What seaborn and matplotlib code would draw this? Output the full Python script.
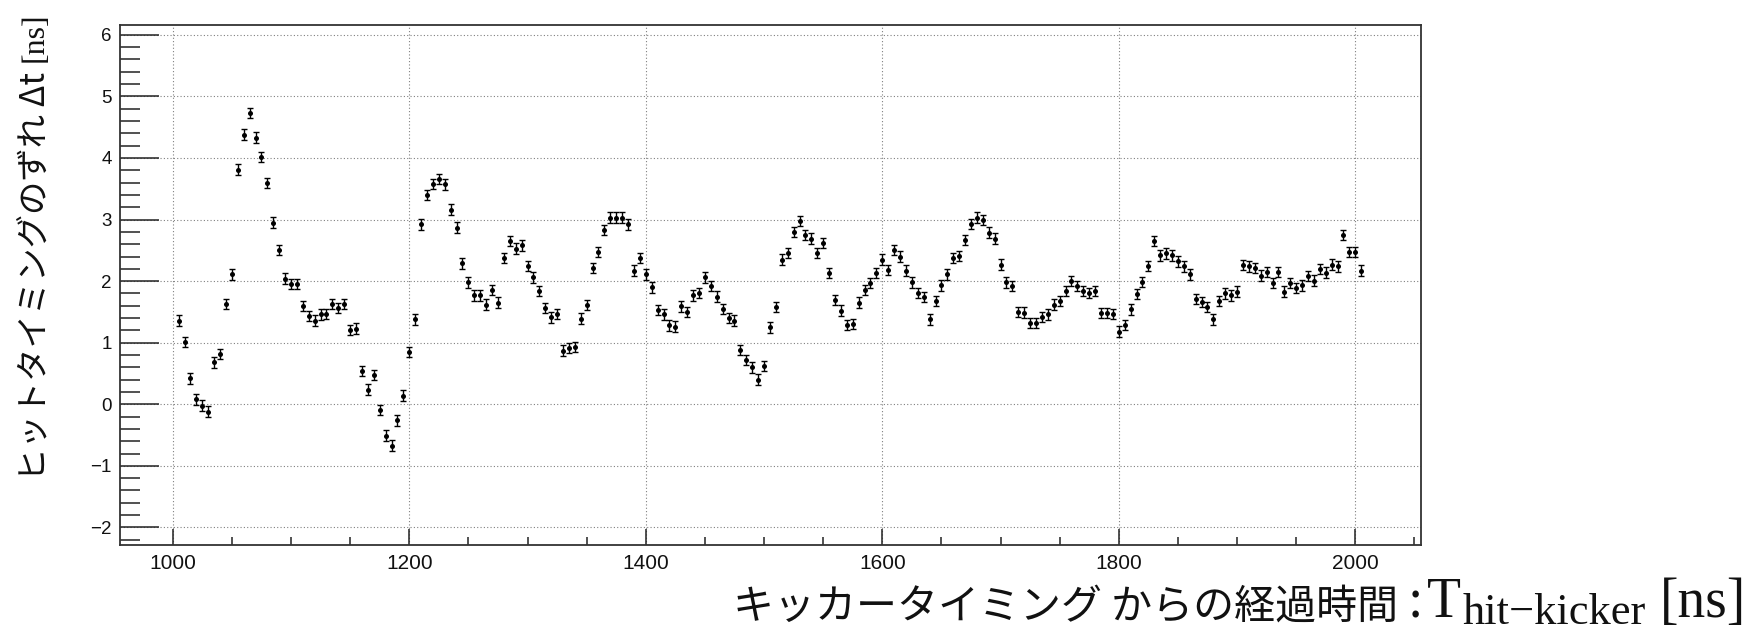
import numpy as np
import pandas as pd
import matplotlib
matplotlib.use("Agg")
import matplotlib.pyplot as plt
from matplotlib.ticker import MultipleLocator
import seaborn as sns

# Bin centres of the hit time after the kicker [ns]
t_first, t_last, t_step = 1005, 2005, 5

# Timing shift of the hit per bin [ns]
dt = [
    1.36, 1.01, 0.42, 0.08, -0.02, -0.12, 0.68, 0.82, 1.63, 2.11,
    3.81, 4.38, 4.73, 4.33, 4.02, 3.59, 2.95, 2.51, 2.04, 1.95,
    1.95, 1.60, 1.43, 1.36, 1.46, 1.47, 1.63, 1.56, 1.63, 1.21,
    1.23, 0.54, 0.24, 0.48, -0.09, -0.51, -0.67, -0.26, 0.14, 0.85,
    1.38, 2.92, 3.40, 3.58, 3.66, 3.57, 3.16, 2.87, 2.29, 1.98,
    1.77, 1.77, 1.62, 1.86, 1.65, 2.38, 2.65, 2.53, 2.58, 2.25,
    2.06, 1.84, 1.56, 1.41, 1.47, 0.87, 0.91, 0.93, 1.39, 1.61,
    2.21, 2.47, 2.83, 3.03, 3.03, 3.03, 2.92, 2.17, 2.38, 2.11,
    1.90, 1.53, 1.46, 1.28, 1.26, 1.59, 1.50, 1.77, 1.81, 2.06,
    1.92, 1.75, 1.55, 1.40, 1.36, 0.88, 0.72, 0.60, 0.40, 0.62,
    1.25, 1.58, 2.35, 2.46, 2.80, 2.98, 2.75, 2.69, 2.46, 2.62,
    2.13, 1.69, 1.52, 1.29, 1.30, 1.65, 1.86, 1.97, 2.13, 2.35,
    2.18, 2.51, 2.40, 2.17, 1.98, 1.81, 1.74, 1.38, 1.68, 1.93,
    2.11, 2.38, 2.41, 2.67, 2.93, 3.03, 2.99, 2.79, 2.69, 2.27,
    1.98, 1.92, 1.50, 1.49, 1.32, 1.32, 1.42, 1.46, 1.62, 1.68,
    1.84, 2.00, 1.92, 1.84, 1.81, 1.84, 1.48, 1.48, 1.47, 1.18,
    1.29, 1.54, 1.79, 1.99, 2.25, 2.65, 2.42, 2.45, 2.42, 2.32,
    2.24, 2.11, 1.71, 1.66, 1.58, 1.38, 1.68, 1.80, 1.77, 1.83,
    2.26, 2.24, 2.21, 2.09, 2.15, 1.97, 2.15, 1.83, 1.97, 1.89,
    1.93, 2.08, 2.01, 2.20, 2.14, 2.27, 2.24, 2.75, 2.47, 2.47,
    2.17,
]
dt_err = 0.085

x_ticks = [1000, 1200, 1400, 1600, 1800, 2000]
y_ticks = [-2, -1, 0, 1, 2, 3, 4, 5, 6]

ylabel_jp = "ヒットタイミングのずれ Δt"
ylabel_unit = "[ns]"
xlabel_jp = "キッカータイミング からの経過時間"
xlabel_colon = ":"
xlabel_sym = "T"
xlabel_sub = "hit\u2212kicker"
xlabel_unit = "[ns]"

t = np.arange(t_first, t_last + t_step, t_step)
df = pd.DataFrame({"t": t, "dt": dt})

sns.set_theme(style="white")
plt.rcParams["font.family"] = ["Liberation Sans", "DejaVu Sans"]
plt.rcParams["axes.unicode_minus"] = True

W, H = 1749, 635
fig = plt.figure(figsize=(W / 100, H / 100), dpi=100)
fig.patch.set_facecolor("white")
ax = fig.add_axes([120 / W, 1 - 545.3 / H, (1421.3 - 120) / W, (545.3 - 25) / H])

ax.errorbar(df["t"], df["dt"], yerr=dt_err, fmt="none", ecolor="black",
            elinewidth=1.0, capsize=2.2, capthick=1.0, zorder=3)
sns.scatterplot(data=df, x="t", y="dt", ax=ax, color="black", s=13,
                linewidth=0, zorder=4)

ax.set_xlim(955.4, 2055.8)
ax.set_ylim(-2.29, 6.16)
ax.set_xticks(x_ticks)
ax.set_yticks(y_ticks)
ax.xaxis.set_minor_locator(MultipleLocator(50))
ax.yaxis.set_minor_locator(MultipleLocator(0.2))
ax.set_xlabel("")
ax.set_ylabel("")

tick_col = "#222222"
ax.tick_params(axis="y", which="major", direction="in", length=28, width=1.1,
               color=tick_col, labelsize=13.5, pad=6, left=True, right=False)
ax.tick_params(axis="y", which="minor", direction="in", length=14.5, width=1.1,
               color=tick_col, left=True, right=False)
ax.tick_params(axis="x", which="major", direction="in", length=11.5, width=1.1,
               color=tick_col, labelsize=15, pad=6, bottom=True, top=False)
ax.tick_params(axis="x", which="minor", direction="in", length=6, width=1.1,
               color=tick_col, bottom=True, top=False)
for lab in ax.get_xticklabels() + ax.get_yticklabels():
    lab.set_color("#111111")

ax.grid(True, which="major", linestyle=(0, (1, 2)), color="#808080", linewidth=0.8)
ax.set_axisbelow(True)
for sp in ax.spines.values():
    sp.set_visible(True)
    sp.set_color("#333333")
    sp.set_linewidth(1.3)

# Y axis title (rotated), unit in serif
fig.text(35 / W, 1 - 12 / H, ylabel_unit, rotation=90, ha="center", va="top",
         fontsize=23, family=["Liberation Serif"], color="#111111")
fig.text(35 / W, 1 - 72 / H, ylabel_jp, rotation=90, ha="center", va="top",
         fontsize=24, family=["Noto Sans CJK JP", "DejaVu Sans"], color="#111111")

# X axis title, laid out right to left from the figure edge
renderer = fig.canvas.get_renderer()
serif = ["Liberation Serif"]
base_px = 617


def place(text, right_px, baseline_px, size, family):
    txt = fig.text(right_px / W, 1 - baseline_px / H, text, ha="right",
                   va="baseline", fontsize=size, family=family, color="#111111")
    return txt.get_window_extent(renderer).x0


x0 = place(xlabel_unit, 1746, base_px, 40, serif)
x0 = place(xlabel_sub, x0 - 14, base_px + 7, 32, serif)
x0 = place(xlabel_sym, x0 - 1, base_px, 40, serif)
x0 = place(xlabel_colon, x0 - 4, base_px, 40, serif)
place(xlabel_jp, x0 - 10, base_px + 2, 29.5, ["Noto Sans CJK JP", "DejaVu Sans"])

fig.savefig("out.png", dpi=100, facecolor="white")
